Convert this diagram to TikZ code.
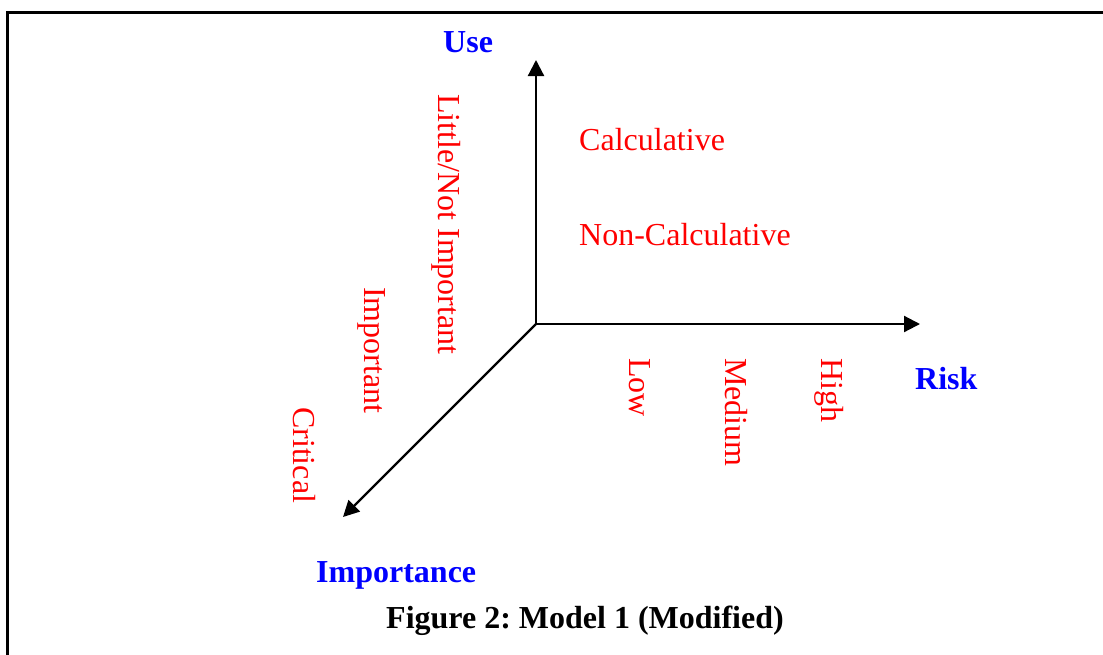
\documentclass[tikz,border=0pt]{standalone}
\usepackage{fontspec}
\setmainfont{Liberation Serif}
\usetikzlibrary{arrows.meta}
\frenchspacing
\begin{document}
\begin{tikzpicture}[x=1pt,y=-1pt,
  lbl/.style={inner sep=0pt, font=\fontsize{32}{38}\selectfont},
  val/.style={lbl, text=red, anchor=base west},
  vval/.style={val, rotate=-90},
  axlab/.style={lbl, text=blue, anchor=base west, font=\fontsize{32}{38}\selectfont\bfseries},
  axis/.style={line width=2.2pt, -{Triangle[length=16pt,width=16pt]}}]
\useasboundingbox (0,0) rectangle (1103,654);
\draw[line width=3pt] (7.5,12) rectangle (1120,680);
\coordinate (O) at (536,324);
\coordinate (U) at (536,60);
\coordinate (R) at (920,324);
\coordinate (I) at (343,517);
\draw[axis] (O) -- (U);
\draw[axis] (O) -- (R);
\draw[axis] (O) -- (I);
\node[axlab] (use) at (443,52) {Use};
\node[axlab] (risk) at (915,389) {Risk};
\node[axlab] (imp) at (316,582) {Importance};
\node[val] (calc) at (579,150) {Calculative};
\node[val] (ncalc) at (579,245) {Non-Calculative};
\node[vval] (little) at (438,94) {Little/Not Important};
\node[vval] (important) at (364,287) {Important};
\node[vval] (critical) at (293,407) {Critical};
\node[vval] (low) at (629,358) {Low};
\node[vval] (medium) at (725,358) {Medium};
\node[vval] (high) at (821,358) {High};
\node[lbl, font=\fontsize{32}{38}\selectfont\bfseries, anchor=base] (cap) at (585,628) {Figure 2: Model 1 (Modified)};
\end{tikzpicture}
\end{document}
